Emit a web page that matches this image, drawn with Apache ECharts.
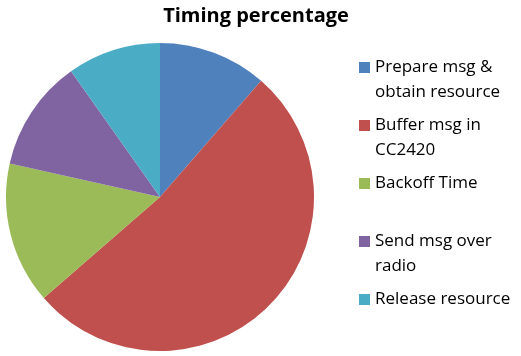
<!DOCTYPE html>
<html>
<head>
<meta charset="utf-8">
<script src="https://cdn.jsdelivr.net/npm/echarts@6/dist/echarts.min.js"></script>
<style>
  html, body {margin: 0; padding: 0; background: #fff;}
  #main {width: 521px; height: 356px;}
</style>
</head>
<body>
<div id="main"></div>
<script>
  // share of time per step (percent)
  const categories = ['Prepare msg & obtain resource', 'Buffer msg in CC2420', 'Backoff Time', 'Send msg over radio', 'Release resource'];
  // legend text, wrapped as in the picture; leading blank line keeps the key on the first line
  const legendLines = [' \nPrepare msg &\nobtain resource', ' \nBuffer msg in\nCC2420', ' \nBackoff Time\n ', ' \nSend msg over\nradio', ' \nRelease resource\n '];
  const values = [11.4, 52.2, 14.9, 11.7, 9.8];
  const colors = ['#4F81BD', '#C0504D', '#9BBB59', '#8064A2', '#4BACC6'];

  const chart = echarts.init(document.getElementById('main'));
  chart.setOption({
    animation: false,
    color: colors,
    title: {
      text: 'Timing percentage',
      left: 251,
      textAlign: 'center',
      top: 1,
      textStyle: {fontFamily: 'Open Sans', fontWeight: 'bold', fontSize: 20, color: '#000'}
    },
    legend: {
      orient: 'vertical',
      left: 359,
      top: 30,
      padding: 0,
      itemGap: -17,
      icon: 'rect',
      itemWidth: 11,
      itemHeight: 11,
      selectedMode: false,
      data: categories,
      formatter(name) {
        return legendLines[categories.indexOf(name)];
      },
      textStyle: {
        fontFamily: 'Open Sans',
        fontSize: 17,
        lineHeight: 25,
        color: '#000'
      }
    },
    series: [{
      type: 'pie',
      center: [160, 197],
      radius: 154,
      startAngle: 90,
      clockwise: true,
      label: {show: false},
      labelLine: {show: false},
      emphasis: {disabled: true},
      data: categories.map((name, i) => ({name, value: values[i]}))
    }]
  });
</script>
</body>
</html>
